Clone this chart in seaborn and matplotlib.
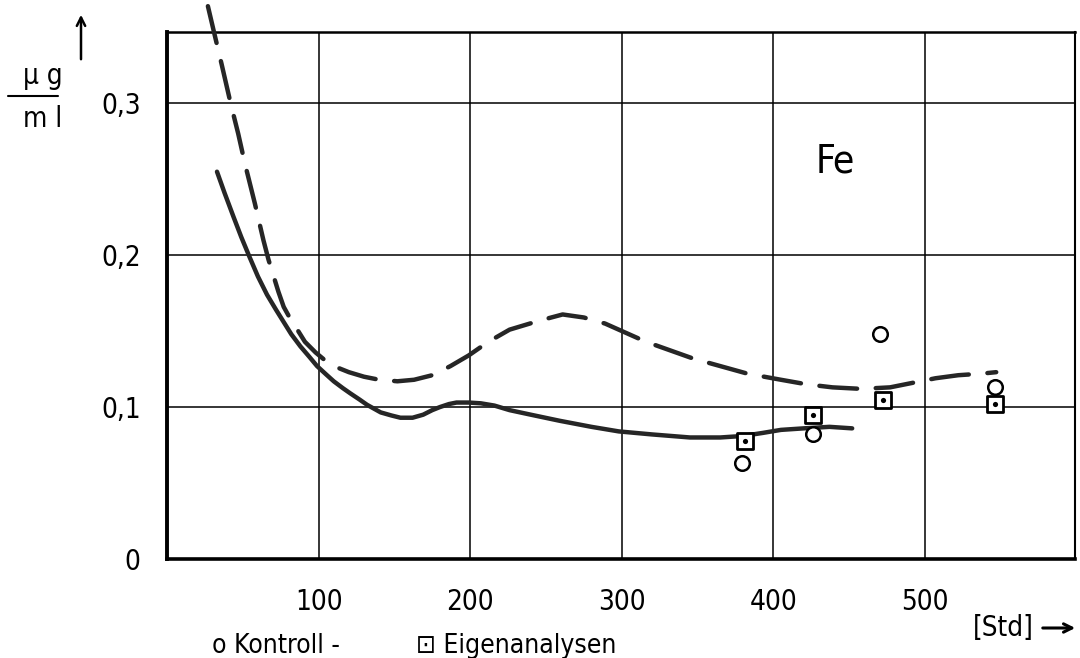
import matplotlib
matplotlib.use("Agg")
import matplotlib.pyplot as plt
import seaborn as sns
import pandas as pd

# --- data ---
solid_x = [33, 38, 44, 49, 54.4, 60, 66, 72, 77, 82, 88, 94, 99, 105, 110, 116, 121, 127, 132,
           141, 148, 154, 162, 169, 175, 180, 186, 191, 199, 207, 216, 226, 240, 259, 280, 298,
           320, 345, 365, 380, 393, 405, 420, 437, 452]
solid_y = [0.255, 0.241, 0.225, 0.212, 0.199, 0.186, 0.174, 0.164, 0.156, 0.148, 0.140, 0.133,
           0.127, 0.1215, 0.117, 0.1125, 0.109, 0.105, 0.1015, 0.0965, 0.0945, 0.093, 0.093,
           0.095, 0.098, 0.100, 0.102, 0.103, 0.103, 0.1025, 0.101, 0.098, 0.095, 0.091, 0.087,
           0.084, 0.082, 0.080, 0.080, 0.081, 0.083, 0.085, 0.086, 0.087, 0.086]

dash_x = [27, 31, 36, 42, 47, 51.5, 58, 63.6, 67, 73.5, 77, 82, 86, 91, 98, 104, 110, 120, 130,
          140, 152, 163, 175, 187, 199, 212, 226, 246, 261, 275, 289, 298, 316, 347, 383, 405,
          422, 439, 458, 477, 492, 507, 522, 537, 547]
dash_y = [0.364, 0.347, 0.326, 0.300, 0.280, 0.260, 0.234, 0.210, 0.197, 0.176, 0.166, 0.157,
          0.151, 0.143, 0.136, 0.131, 0.127, 0.123, 0.120, 0.118, 0.117, 0.118, 0.121, 0.127,
          0.134, 0.143, 0.151, 0.157, 0.161, 0.159, 0.155, 0.151, 0.143, 0.132, 0.122, 0.118,
          0.115, 0.113, 0.112, 0.113, 0.116, 0.119, 0.121, 0.122, 0.123]

kontroll_x = [379, 426, 470.5, 546]
kontroll_y = [0.063, 0.082, 0.148, 0.113]

eigen_x = [381, 426, 472.5, 546]
eigen_y = [0.078, 0.095, 0.105, 0.102]

x_ticks = [100, 200, 300, 400, 500]
x_tick_labels = ["100", "200", "300", "400", "500"]
y_ticks = [0, 0.1, 0.2, 0.3]
y_tick_labels = ["0", "0,1", "0,2", "0,3"]

# --- figure ---
sns.set_style("white")
plt.rcParams['font.family'] = ['DejaVu Sans']
plt.rcParams['font.stretch'] = 'condensed'
plt.rcParams['text.color'] = 'black'

fig = plt.figure(figsize=(10.8, 6.58), dpi=100)
ax = fig.add_axes([0.1546, 0.1505, 0.8408, 0.8009])

solid_df = pd.DataFrame({"x": solid_x, "y": solid_y})
dash_df = pd.DataFrame({"x": dash_x, "y": dash_y})

sns.lineplot(data=solid_df, x="x", y="y", sort=False, estimator=None, ax=ax,
             color="#262626", linewidth=3.2, solid_capstyle="round",
             solid_joinstyle="round", zorder=3)
sns.lineplot(data=dash_df, x="x", y="y", sort=False, estimator=None, ax=ax,
             color="#262626", linewidth=3.2, linestyle=(0, (8.5, 4.2)),
             dash_capstyle="round", dash_joinstyle="round", clip_on=False, zorder=3)

sns.scatterplot(x=kontroll_x, y=kontroll_y, ax=ax, marker="o", s=110,
                facecolor="white", edgecolor="black", linewidth=1.8, zorder=4)
sns.scatterplot(x=eigen_x, y=eigen_y, ax=ax, marker="s", s=140,
                facecolor="white", edgecolor="black", linewidth=2.0, zorder=5)
sns.scatterplot(x=eigen_x, y=eigen_y, ax=ax, marker="o", s=14,
                color="black", linewidth=0, zorder=6)

ax.set_xlim(0, 599)
ax.set_ylim(0, 0.347)
ax.set_xticks(x_ticks)
ax.set_xticklabels(x_tick_labels)
ax.set_yticks(y_ticks)
ax.set_yticklabels(y_tick_labels)
ax.set_xlabel("")
ax.set_ylabel("")

ax.grid(True, color="black", linewidth=1.1)
ax.set_axisbelow(True)
ax.tick_params(axis="both", direction="out", length=9, width=1.1, color="black",
               labelsize=20, labelcolor="black")
ax.tick_params(axis="x", pad=12)
ax.tick_params(axis="y", pad=10)
for lab in ax.get_xticklabels() + ax.get_yticklabels():
    lab.set_fontstretch("condensed")

for side, lw in [("left", 2.8), ("bottom", 2.6), ("top", 1.8), ("right", 1.5)]:
    ax.spines[side].set_visible(True)
    ax.spines[side].set_color("black")
    ax.spines[side].set_linewidth(lw)

ax.text(428, 0.262, "Fe", fontsize=28, ha="left", va="center", color="black",
        fontstretch="condensed")

# y unit label: µg / ml with arrow
fig.text(43 / 1080, 1 - 76 / 658, "µ g", fontsize=20, ha="center", va="center", color="black")
fig.text(43 / 1080, 1 - 119 / 658, "m l", fontsize=20, ha="center", va="center", color="black")
fig.add_artist(plt.Line2D([8 / 1080, 58 / 1080], [1 - 96 / 658, 1 - 96 / 658],
                          color="black", linewidth=1.5))
fig.add_artist(matplotlib.patches.FancyArrowPatch(
    (81 / 1080, 1 - 62 / 658), (81 / 1080, 1 - 12 / 658),
    transform=fig.transFigure, arrowstyle="->,head_length=6,head_width=3",
    color="black", linewidth=1.8))

# x unit label
fig.text(1003 / 1080, 1 - 628 / 658, "[Std]", fontsize=20, ha="center", va="center",
         color="black", fontstretch="condensed")
fig.add_artist(matplotlib.patches.FancyArrowPatch(
    (1040 / 1080, 1 - 628 / 658), (1078 / 1080, 1 - 628 / 658),
    transform=fig.transFigure, arrowstyle="->,head_length=6,head_width=3",
    color="black", linewidth=2.2))

# legend row
fig.text(212 / 1080, 1 - 646 / 658, "o Kontroll -", fontsize=19, ha="left", va="center",
         color="black", fontstretch="condensed")
fig.text(416 / 1080, 1 - 646 / 658, "⊡ Eigenanalysen", fontsize=19, ha="left", va="center",
         color="black", fontstretch="condensed")

fig.savefig("out.png", dpi=100)
